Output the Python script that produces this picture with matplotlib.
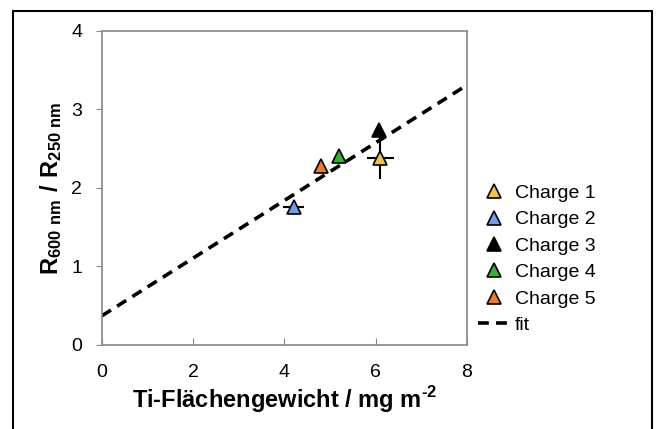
import matplotlib.pyplot as plt
from matplotlib.patches import Rectangle
from matplotlib.lines import Line2D
import numpy as np

plt.rcParams['font.family'] = ['Liberation Sans', 'DejaVu Sans']
plt.rcParams['mathtext.fontset'] = 'custom'
plt.rcParams['mathtext.rm'] = 'Liberation Sans'
plt.rcParams['mathtext.bf'] = 'Liberation Sans:bold'

# data
labels = ["Charge 1", "Charge 2", "Charge 3", "Charge 4", "Charge 5"]
x_vals = [6.1, 4.2, 6.07, 5.2, 4.8]
y_vals = [2.38, 1.76, 2.74, 2.40, 2.28]
x_err = [0.3, 0.22, 0.0, 0.0, 0.0]
y_err = [0.27, 0.0, 0.0, 0.0, 0.0]
colors = ["#F5C242", "#6D9EEB", "#000000", "#2DB52D", "#F07A2A"]

fit_x = [0, 8]
fit_intercept = 0.37
fit_slope = 0.3675

fig = plt.figure(figsize=(6.61, 4.29), dpi=100)
ax = fig.add_axes([0.154, 0.196, 0.5525, 0.732])

fx = np.array(fit_x)
ax.plot(fx, fit_intercept + fit_slope * fx, color="black", lw=2.6,
        dashes=(3, 2), zorder=2)

for i in range(len(labels)):
    if x_err[i] or y_err[i]:
        ax.errorbar(x_vals[i], y_vals[i], xerr=x_err[i] or None,
                    yerr=y_err[i] or None, fmt="none", ecolor="black",
                    elinewidth=1.5, capsize=0, zorder=3)
    ax.plot(x_vals[i], y_vals[i], marker="^", ms=10, color=colors[i],
            mec="black", mew=1.2, ls="none", zorder=4)

ax.set_xlim(0, 8)
ax.set_ylim(0, 4)
ax.set_xticks([0, 2, 4, 6, 8])
ax.set_yticks([0, 1, 2, 3, 4])
ax.tick_params(axis="x", direction="in", length=5, color="#888888",
               labelsize=14, pad=14)
ax.tick_params(axis="y", direction="out", length=4, color="#888888",
               labelsize=14, pad=10)
for s in ax.spines.values():
    s.set_color("#888888")
    s.set_linewidth(1.2)

ax.set_xlabel(r"Ti-Flächengewicht / mg m$^{\mathbf{‐2}}$",
              fontsize=17, fontweight="bold", labelpad=2)
ax.set_ylabel(r"$\mathbf{R_{600\ nm}\ /\ R_{250\ nm}}$", fontsize=17,
              labelpad=5)

handles = [Line2D([], [], marker="^", ms=10, color=c, mec="black", mew=1.2,
                  ls="none") for c in colors]
handles.append(Line2D([], [], color="black", lw=2.6, dashes=(3, 2)))
fig.legend(handles, labels + ["fit"], loc="upper left",
           bbox_to_anchor=(0.711, 0.588), frameon=False, fontsize=14,
           labelspacing=0.45, handlelength=1.7, handletextpad=0.2,
           borderaxespad=0)

fig.patches.append(Rectangle((0.0197, -0.01), 0.966, 0.984,
                             transform=fig.transFigure, fill=False,
                             edgecolor="black", lw=1.5))

fig.savefig("out.png", dpi=100)
